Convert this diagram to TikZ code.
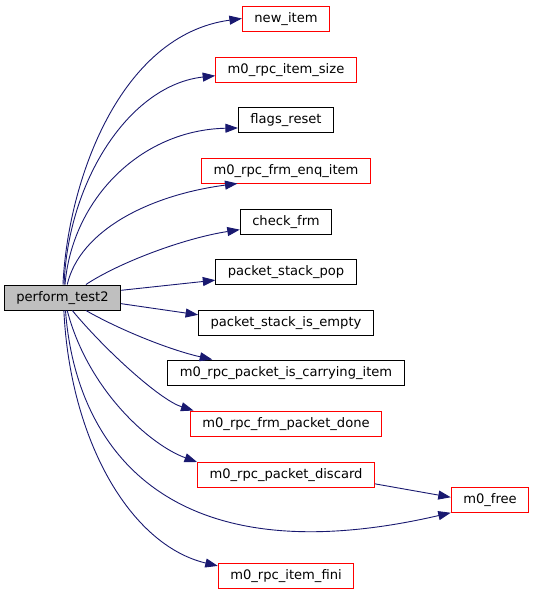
\documentclass[tikz,border=0pt]{standalone}
\usepackage{fontspec}
\setmainfont{DejaVu Sans}
\usetikzlibrary{arrows.meta}

\definecolor{edgeblue}{RGB}{25,25,112}

\begin{document}
\begin{tikzpicture}[
    x=1pt, y=-1pt,
    font=\fontsize{13.1}{15}\selectfont,
    fn/.style={draw, rectangle, line width=1pt, minimum height=25pt,
        inner xsep=12pt, inner ysep=0pt, text height=9.8pt, text depth=2.8pt},
    hidden/.style={fn, draw=red},
    root/.style={fn, fill=gray!50},
    call/.style={-{Triangle[length=12.5pt, width=9pt]}, edgeblue, line width=0.9pt}
]
\useasboundingbox (0,0) rectangle (533,595);

\node[root] (perf) at (62.5,297.5) {perform\_test2};

\node[hidden] (newitem)  at (286,18.5)  {new\_item};
\node[hidden] (itemsize) at (286,69.5)  {m0\_rpc\_item\_size};
\node[fn]     (flags)    at (286,119.5) {flags\_reset};
\node[hidden] (enq)      at (286,170.5) {m0\_rpc\_frm\_enq\_item};
\node[fn]     (check)    at (286,221.5) {check\_frm};
\node[fn]     (pop)      at (286,271.5) {packet\_stack\_pop};
\node[fn]     (empty)    at (286,322.5) {packet\_stack\_is\_empty};
\node[fn]     (carry)    at (286,372.5) {m0\_rpc\_packet\_is\_carrying\_item};
\node[hidden] (done)     at (286,423.5) {m0\_rpc\_frm\_packet\_done};
\node[hidden] (discard)  at (286,474.5) {m0\_rpc\_packet\_discard};
\node[hidden] (mfree)    at (490,500)   {m0\_free};
\node[hidden] (fini)     at (286,575.5) {m0\_rpc\_item\_fini};

\draw[call] (perf.88) .. controls (68,180) and (120,35) .. (newitem.west);
\draw[call] (perf.83) .. controls (68,180) and (130,85) .. (itemsize.185);
\draw[call] (perf.79) .. controls (72,200) and (140,130) .. (flags.190);
\draw[call] (perf.70) .. controls (80,230) and (150,195) .. (enq.195);
\draw[call] (perf.29) .. controls (120,262) and (185,238) .. (check.190);
\draw[call] (perf.7) -- (pop.187);
\draw[call] (perf.-6) -- (empty.175);
\draw[call] (perf.-29) .. controls (120,330) and (170,350) .. (carry.170);
\draw[call] (perf.-53) .. controls (105,350) and (160,400) .. (done.172);
\draw[call] (perf.-70) .. controls (88,390) and (150,445) .. (discard.172);
\draw[call] (perf.-77) .. controls (75,440) and (160,580) .. (mfree.198);
\draw[call] (perf.-84) .. controls (70,440) and (130,545) .. (fini.172);
\draw[call] (discard.-6) -- (mfree.176);

\end{tikzpicture}
\end{document}
